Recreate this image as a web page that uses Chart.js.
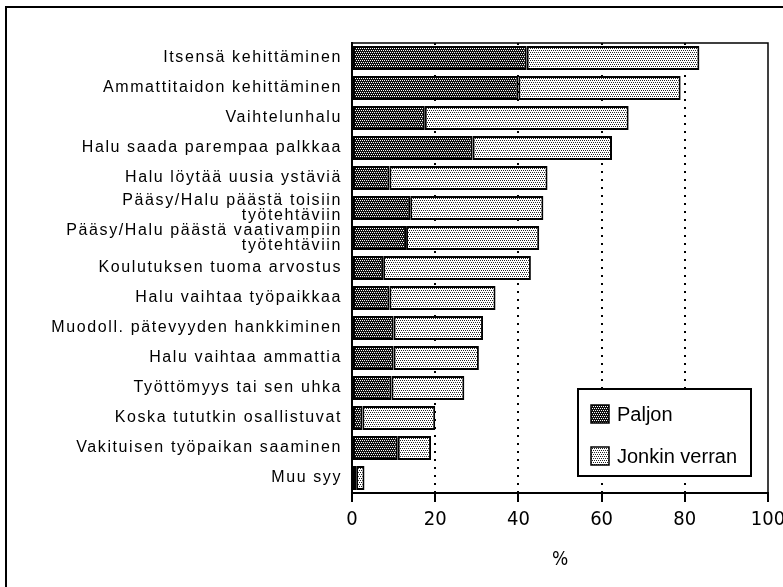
<!DOCTYPE html>
<html>
<head>
<meta charset="utf-8">
<script src="https://cdn.jsdelivr.net/npm/chart.js@4/dist/chart.umd.min.js"></script>
<style>
  html, body { margin: 0; padding: 0; background: #fff; }
  #wrap { width: 783px; height: 587px; }
</style>
</head>
<body>
<div id="wrap"><canvas id="result_chart" width="783" height="587"></canvas></div>
<script>
// Data (percent)
const categories = [
    'Itsensä kehittäminen',
    'Ammattitaidon kehittäminen',
    'Vaihtelunhalu',
    'Halu saada parempaa palkkaa',
    'Halu löytää uusia ystäviä',
    ['Pääsy/Halu päästä toisiin', 'työtehtäviin'],
    ['Pääsy/Halu päästä vaativampiin', 'työtehtäviin'],
    'Koulutuksen tuoma arvostus',
    'Halu vaihtaa työpaikkaa',
    'Muodoll. pätevyyden hankkiminen',
    'Halu vaihtaa ammattia',
    'Työttömyys tai sen uhka',
    'Koska tututkin osallistuvat',
    'Vakituisen työpaikan saaminen',
    'Muu syy'
];
const paljon = [42, 40, 17.5, 29, 9, 14, 13, 7.5, 9, 10, 10, 9.5, 2.5, 11, 1];
const jonkinVerran = [41.5, 39, 49, 33.5, 38, 32, 32, 35.5, 25.5, 21.5, 20.5, 17.5, 17.5, 8, 2];
const seriesNames = ['Paljon', 'Jonkin verran'];
const xTicks = [0, 20, 40, 60, 80, 100];

// dotted fill patterns
const make_pattern = (bg, fg) => {
    const c = document.createElement('canvas');
    c.width = 4; c.height = 4;
    const g = c.getContext('2d');
    g.fillStyle = bg;
    g.fillRect(0, 0, 4, 4);
    g.fillStyle = fg;
    [[0, 0], [2, 0], [1, 2], [3, 2]].forEach(p => g.fillRect(p[0], p[1], 1, 1));
    return g.createPattern(c, 'repeat');
};
const darkFill = make_pattern('#111', '#fff');
const lightFill = make_pattern('#fff', '#222');

// spaced-out lettering for the category labels only
const spread_labels = (scale) => {
    if (scale._spread) return;
    const orig = scale.drawLabels.bind(scale);
    scale.drawLabels = (area) => {
        scale.ctx.save();
        scale.ctx.letterSpacing = '1.6px';
        orig(area);
        scale.ctx.restore();
    };
    scale._spread = true;
};

const frame_plugin = {
    id: 'frame',
    afterDraw: (chart) => {
        const ctx = chart.ctx;
        const a = chart.chartArea;
        ctx.save();
        ctx.strokeStyle = '#000';
        // plot box
        ctx.lineWidth = 1.5;
        ctx.strokeRect(a.left, a.top, a.right - a.left, a.bottom - a.top);
        // outer frame (top and left only)
        ctx.lineWidth = 2;
        ctx.beginPath();
        ctx.moveTo(6, 587);
        ctx.lineTo(6, 7);
        ctx.lineTo(783, 7);
        ctx.stroke();
        // legend
        const lx = 578, ly = 389, lw = 173, lh = 87;
        ctx.fillStyle = '#fff';
        ctx.fillRect(lx, ly, lw, lh);
        ctx.lineWidth = 2;
        ctx.strokeRect(lx, ly, lw, lh);
        ctx.font = '20px "Liberation Sans", Arial, sans-serif';
        ctx.textBaseline = 'middle';
        ctx.textAlign = 'left';
        chart.data.datasets.forEach((ds, i) => {
            const cy = 414 + i * 42;
            ctx.fillStyle = ds.backgroundColor;
            ctx.fillRect(591, cy - 9, 18, 18);
            ctx.lineWidth = 1.5;
            ctx.strokeRect(591, cy - 9, 18, 18);
            ctx.fillStyle = '#000';
            ctx.fillText(ds.label, 617, cy + 1);
        });
        ctx.restore();
    }
};

const tickFont = '"Liberation Sans Narrow", "DejaVu Sans Condensed", "Liberation Sans", Arial, sans-serif';

const config = {
    type: 'bar',
    data: {
        labels: categories,
        datasets: [{
            label: seriesNames[0],
            data: paljon,
            backgroundColor: darkFill,
            borderColor: '#000',
            borderWidth: 2,
            borderSkipped: false
        }, {
            label: seriesNames[1],
            data: jonkinVerran,
            backgroundColor: lightFill,
            borderColor: '#000',
            borderWidth: 2,
            borderSkipped: false
        }]
    },
    options: {
        indexAxis: 'y',
        responsive: false,
        animation: false,
        layout: { padding: { top: 43, right: 15, left: 0, bottom: 0 } },
        datasets: { bar: { categoryPercentage: 0.8, barPercentage: 1.0 } },
        plugins: {
            legend: { display: false },
            tooltip: { enabled: false }
        },
        scales: {
            x: {
                stacked: true,
                min: 0,
                max: 100,
                afterBuildTicks: (scale) => { scale.ticks = xTicks.map(v => ({ value: v })); },
                afterFit: (scale) => {
                    scale.height = 94;
                    scale.paddingLeft = 0;
                    scale.paddingRight = 0;
                },
                grid: {
                    color: (ctx) => (ctx.tick && ctx.tick.value % 100 !== 0) ? '#000' : 'rgba(0,0,0,0)',
                    lineWidth: 2,
                    tickLength: 9,
                    tickColor: '#000',
                    tickWidth: 2,
                    tickBorderDash: []
                },
                border: { display: true, color: '#000', width: 2, dash: [2, 6] },
                ticks: {
                    color: '#000',
                    padding: 6,
                    font: { family: tickFont, size: 20 }
                },
                title: {
                    display: true,
                    text: '%',
                    color: '#000',
                    padding: { top: 0, bottom: 16 },
                    font: { family: tickFont, size: 19 }
                }
            },
            y: {
                stacked: true,
                afterFit: (scale) => {
                    scale.width = 352;
                    spread_labels(scale);
                },
                grid: { display: false },
                border: { display: true, color: '#000', width: 2 },
                ticks: {
                    color: '#000',
                    padding: 2,
                    autoSkip: false,
                    font: { family: '"Liberation Sans", Arial, sans-serif', size: 16, lineHeight: 0.9 }
                }
            }
        }
    },
    plugins: [frame_plugin]
};

const render_chart = () => {
    let context = document.getElementById('result_chart');
    new Chart(context, config);
};
render_chart();
</script>
</body>
</html>
